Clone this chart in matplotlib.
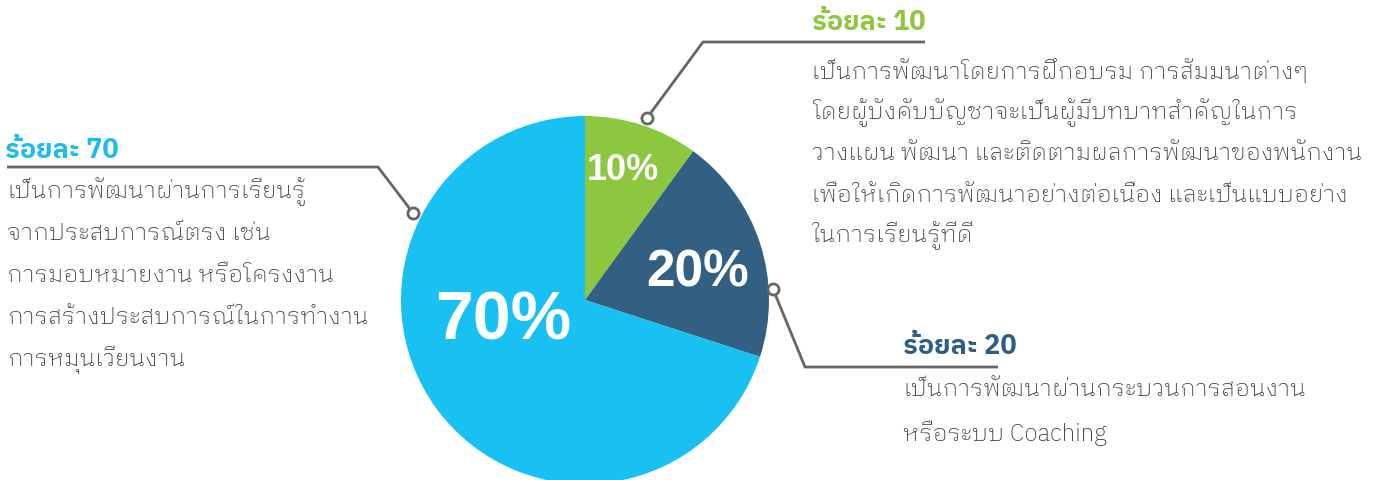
import matplotlib
matplotlib.use("Agg")
import matplotlib.pyplot as plt

# data
shares = [10, 20, 70]
pct_labels = ["10%", "20%", "70%"]
slice_colors = ["#8DC63F", "#335F83", "#18C1F1"]
head_colors = ["#8DC63F", "#2F5F86", "#1CBDEE"]
headings = ["ร้อยละ 10", "ร้อยละ 20", "ร้อยละ 70"]
bodies = [
    ["เป็นการพัฒนาโดยการฝึกอบรม การสัมมนาต่างๆ",
     "โดยผู้บังคับบัญชาจะเป็นผู้มีบทบาทสำคัญในการ",
     "วางแผน พัฒนา และติดตามผลการพัฒนาของพนักงาน",
     "เพื่อให้เกิดการพัฒนาอย่างต่อเนื่อง และเป็นแบบอย่าง",
     "ในการเรียนรู้ที่ดี"],
    ["เป็นการพัฒนาผ่านกระบวนการสอนงาน",
     "หรือระบบ Coaching"],
    ["เป็นการพัฒนาผ่านการเรียนรู้",
     "จากประสบการณ์ตรง เช่น",
     "การมอบหมายงาน หรือโครงงาน",
     "การสร้างประสบการณ์ในการทำงาน",
     "การหมุนเวียนงาน"],
]

W, H = 1384, 481
body_font = ["IBM Plex Sans Thai Looped", "DejaVu Sans"]
head_font = ["IBM Plex Sans Thai", "DejaVu Sans"]
line_col = "#666666"

fig = plt.figure(figsize=(W / 100, H / 100), dpi=100)
ax = fig.add_axes([0, 0, 1, 1])
renderer = fig.canvas.get_renderer()


def fit_size(text, target_px, **kw):
    # pick a font size so the text spans about target_px pixels
    t = fig.text(0, 0, text, fontsize=20, **kw)
    w = t.get_window_extent(renderer).width
    t.remove()
    return 20 * target_px / w


cx, cy, R = 585, H - 301, 184
ax.pie(shares, colors=slice_colors, startangle=90, counterclock=False,
       center=(cx, cy), radius=R, wedgeprops=dict(linewidth=0))
ax.set_xlim(0, W)
ax.set_ylim(0, H)
ax.set_aspect("equal")
ax.axis("off")

# percent labels inside slices (image px)
pct_pos = [(623, 170), (698, 273), (503, 321)]
pct_size = [26, 37, 49]
for lab, (x, y), s in zip(pct_labels, pct_pos, pct_size):
    ax.text(x, H - y, lab, color="white", fontsize=s, fontweight="bold",
            family="Liberation Sans", ha="center", va="center")

# leader lines: dot -> elbow -> end of underline
leaders = [
    [(647, 119), (703, 43), (925, 43)],
    [(773, 290), (805, 368), (998, 368)],
    [(413, 214), (378, 168), (7, 168)],
]
for pts in leaders:
    xs = [p[0] for p in pts]
    ys = [H - p[1] for p in pts]
    ax.plot(xs, ys, color=line_col, lw=2, solid_capstyle="butt", zorder=3)
    ax.plot(xs[0], ys[0], "o", ms=8, mfc="white", mec=line_col, mew=2, zorder=4)

head_size = fit_size(headings[2], 113, fontweight="bold", family=head_font)
body_size = fit_size(bodies[0][2], 550, fontweight="light", family=body_font)

# headings and body text blocks
head_pos = [(812, 22), (903, 347), (5, 150)]
body_x = [812, 903, 7]
body_y0 = [72, 390, 192]
body_gap = [41, 43, 42]
for i in range(3):
    hx, hy = head_pos[i]
    ax.text(hx, H - hy, headings[i], color=head_colors[i], fontsize=head_size,
            fontweight="bold", family=head_font, ha="left", va="center")
    for j, line in enumerate(bodies[i]):
        ax.text(body_x[i], H - (body_y0[i] + j * body_gap[i]), line,
                color="#333333", fontsize=body_size, fontweight="light",
                family=body_font, ha="left", va="center")

fig.savefig("out.png", dpi=100)
